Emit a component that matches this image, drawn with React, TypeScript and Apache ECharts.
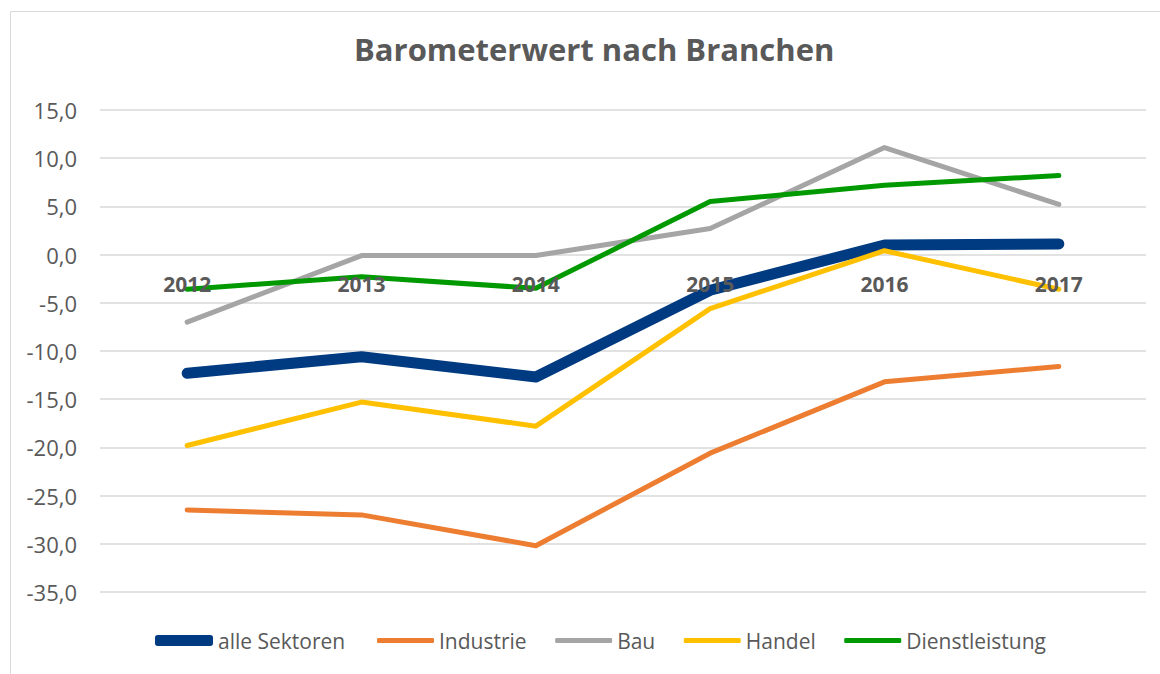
import React, { useEffect, useRef } from "react";
import * as echarts from "echarts";

const categories = ["2012", "2013", "2014", "2015", "2016", "2017"];
const alleSektoren = [-12.3, -10.6, -12.7, -3.7, 1.0, 1.1];
const industrie = [-26.5, -27.0, -30.2, -20.6, -13.2, -11.6];
const bau = [-7.0, -0.1, -0.1, 2.7, 11.1, 5.2];
const handel = [-19.8, -15.3, -17.8, -5.6, 0.4, -3.6];
const dienstleistung = [-3.6, -2.3, -3.5, 5.5, 7.2, 8.2];

const FONT = "'Open Sans', 'Noto Sans', sans-serif";
const TEXT = "#595959";

export default function App() {
  const ref = useRef<HTMLDivElement>(null);
  useEffect(() => {
    document.body.style.margin = "0";
    if (!ref.current) return;
    const chart = echarts.init(ref.current, null, { renderer: "svg" });
    const mk = (name: string, data: number[], color: string, width: number) => ({
      name,
      type: "line",
      data,
      symbol: "none",
      lineStyle: { color, width, cap: "round", join: "round" },
      itemStyle: { color },
      z: 2,
    });
    const legendText = { fontFamily: FONT, fontSize: 21, color: TEXT };
    chart.setOption({
      animation: false,
      backgroundColor: "#ffffff",
      textStyle: { fontFamily: FONT },
      title: {
        text: "Barometerwert nach Branchen",
        left: 354,
        top: 33,
        padding: 0,
        textStyle: { fontFamily: FONT, fontSize: 31, fontWeight: "bold", color: TEXT },
      },
      graphic: [
        {
          type: "rect",
          shape: { x: 10.5, y: 11.5, width: 1200, height: 700 },
          style: { fill: "none", stroke: "#d9d9d9", lineWidth: 1 },
          silent: true,
          z: -1,
        },
      ],
      grid: { left: 100, right: 14, top: 110, bottom: 82, containLabel: false },
      legend: [
        {
          top: 630,
          left: 155,
          padding: 0,
          itemWidth: 58,
          itemHeight: 11,
          icon: "roundRect",
          textStyle: legendText,
          data: ["alle Sektoren"],
        },
        {
          top: 630,
          left: 377,
          padding: 0,
          itemWidth: 57,
          itemHeight: 5,
          itemGap: 28.5,
          icon: "roundRect",
          textStyle: legendText,
          data: ["Industrie", "Bau", "Handel", "Dienstleistung"],
        },
      ],
      xAxis: {
        type: "category",
        data: categories,
        boundaryGap: true,
        axisLine: { show: false },
        axisTick: { show: false },
        axisLabel: { show: false },
      },
      yAxis: {
        type: "value",
        min: -35,
        max: 15,
        interval: 5,
        axisLine: { show: false },
        axisTick: { show: false },
        splitLine: { lineStyle: { color: "#d9d9d9", width: 1.5 } },
        axisLabel: {
          fontFamily: FONT,
          fontSize: 22,
          color: TEXT,
          margin: 23,
          formatter: (v: number) => v.toFixed(1).replace(".", ","),
        },
      },
      series: [
        mk("alle Sektoren", alleSektoren, "#003A80", 11),
        mk("Industrie", industrie, "#ED7D31", 5),
        mk("Bau", bau, "#A5A5A5", 5),
        mk("Handel", handel, "#FFC000", 5),
        mk("Dienstleistung", dienstleistung, "#009900", 5),
        {
          name: "axisLabels",
          type: "scatter",
          data: categories.map((c) => [c, 0]),
          symbolSize: 0,
          silent: true,
          z: 10,
          itemStyle: { opacity: 1, color: "transparent" },
          label: {
            show: true,
            position: "bottom",
            distance: 19,
            opacity: 1,
            formatter: (p: any) => categories[p.dataIndex],
            fontFamily: FONT,
            fontSize: 21,
            fontWeight: "bold",
            color: TEXT,
          },
        },
      ],
    });
    return () => chart.dispose();
  }, []);
  return <div ref={ref} style={{ width: 1160, height: 674 }} />;
}
